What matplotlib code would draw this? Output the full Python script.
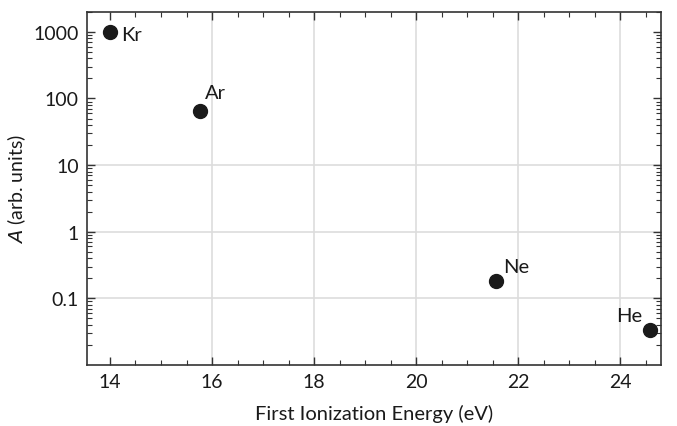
import numpy as np
import matplotlib.pyplot as plt
from matplotlib.ticker import FixedLocator, NullFormatter, LogLocator

plt.rcParams['font.family'] = ['Lato', 'DejaVu Sans']

# data: first ionization energy (eV) and A (arb. units)
elements = ['Kr', 'Ar', 'Ne', 'He']
energy = [14.0, 15.76, 21.56, 24.59]
amp = [1000, 65, 0.18, 0.033]
label_offsets = [(8, -6), (4, 9), (5, 7), (-25, 7)]

fig = plt.figure(figsize=(6.77, 4.27), dpi=100)
ax = fig.add_axes([0.1285, 0.143, 0.848, 0.827])

ax.set_yscale('log')
ax.set_xlim(13.55, 24.8)
ax.set_ylim(0.01, 2000)

ax.scatter(energy, amp, s=100, color='#1a1a1a', zorder=3, clip_on=False)
for name, x, y, off in zip(elements, energy, amp, label_offsets):
    ax.annotate(name, (x, y), xytext=off, textcoords='offset points',
                fontsize=14.5, color='#1a1a1a')

# grid like the original
for gx in [16, 18, 20, 22, 24]:
    ax.axvline(gx, color='#dddddd', lw=1.2, zorder=0)
for gy in [0.1, 1, 10]:
    ax.axhline(gy, color='#dddddd', lw=1.2, zorder=0)

ax.set_xticks([14, 16, 18, 20, 22, 24])
ax.xaxis.set_minor_locator(FixedLocator(np.arange(13.5, 25, 0.5)))
ax.set_yticks([0.1, 1, 10, 100, 1000])
ax.set_yticklabels(['0.1', '1', '10', '100', '1000'])
ax.yaxis.set_minor_locator(LogLocator(base=10, subs=np.arange(2, 10), numticks=20))
ax.yaxis.set_minor_formatter(NullFormatter())

ax.tick_params(which='both', direction='in', top=True, right=True,
               labelsize=14, colors='#333333', labelcolor='#1a1a1a', pad=6)
ax.tick_params(which='major', length=6, width=1)
ax.tick_params(which='minor', length=3.5, width=0.8)
for sp in ax.spines.values():
    sp.set_color('#333333')
    sp.set_linewidth(1.2)

ax.set_xlabel('First Ionization Energy (eV)', fontsize=14.5, color='#1a1a1a', labelpad=10)
ax.set_ylabel(r'$\it{A}$ (arb. units)', fontsize=14, color='#1a1a1a', labelpad=4)

fig.savefig('out.png', dpi=100)
